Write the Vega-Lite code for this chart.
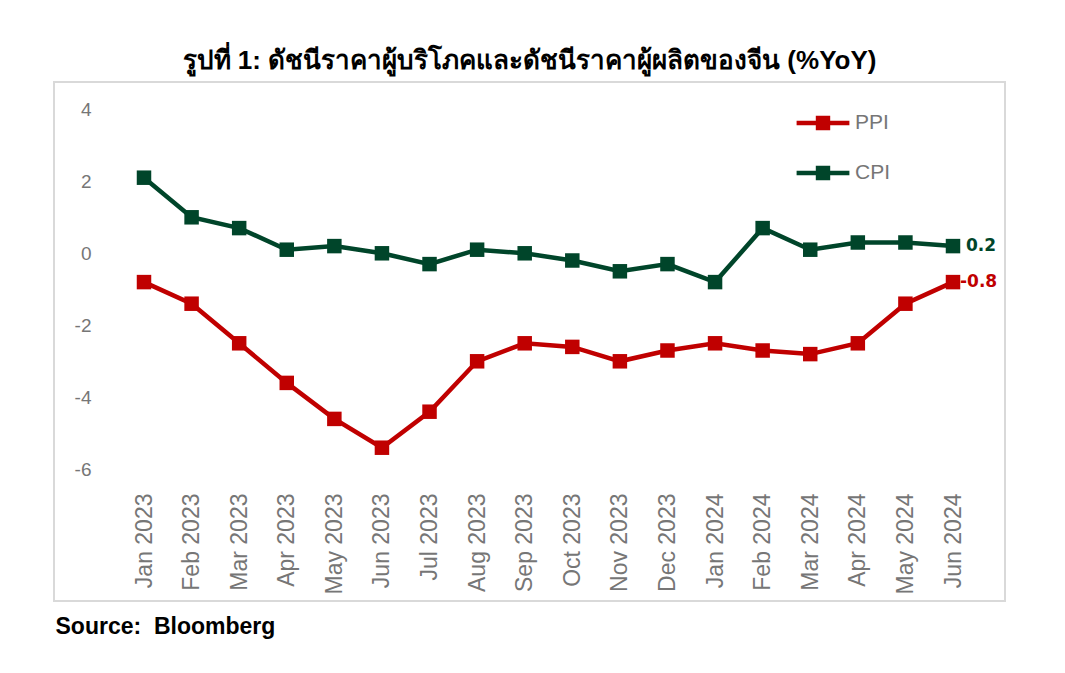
{
  "$schema": "https://vega.github.io/schema/vega-lite/v6.json",
  "autosize": {"type": "none"},
  "width": 951,
  "height": 519,
  "padding": {"left": 54, "top": 82, "right": 60, "bottom": 72},
  "background": "white",
  "title": {
    "text": "รูปที่ 1: ดัชนีราคาผู้บริโภคและดัชนีราคาผู้ผลิตของจีน (%YoY)",
    "font": "Liberation Sans",
    "fontSize": 26,
    "fontWeight": "bold",
    "color": "#000000",
    "anchor": "middle",
    "offset": 8
  },
  "config": {
    "locale": {"number": {"decimal": ".", "thousands": ",", "grouping": [3], "currency": ["$", ""], "minus": "-"}},
    "view": {"stroke": "#d9d9d9", "strokeWidth": 2},
    "axis": {"labelFont": "Liberation Sans"}
  },
  "data": {
    "values": [
      {"month": "Jan 2023", "series": "PPI", "value": -0.8},
      {"month": "Feb 2023", "series": "PPI", "value": -1.4},
      {"month": "Mar 2023", "series": "PPI", "value": -2.5},
      {"month": "Apr 2023", "series": "PPI", "value": -3.6},
      {"month": "May 2023", "series": "PPI", "value": -4.6},
      {"month": "Jun 2023", "series": "PPI", "value": -5.4},
      {"month": "Jul 2023", "series": "PPI", "value": -4.4},
      {"month": "Aug 2023", "series": "PPI", "value": -3.0},
      {"month": "Sep 2023", "series": "PPI", "value": -2.5},
      {"month": "Oct 2023", "series": "PPI", "value": -2.6},
      {"month": "Nov 2023", "series": "PPI", "value": -3.0},
      {"month": "Dec 2023", "series": "PPI", "value": -2.7},
      {"month": "Jan 2024", "series": "PPI", "value": -2.5},
      {"month": "Feb 2024", "series": "PPI", "value": -2.7},
      {"month": "Mar 2024", "series": "PPI", "value": -2.8},
      {"month": "Apr 2024", "series": "PPI", "value": -2.5},
      {"month": "May 2024", "series": "PPI", "value": -1.4},
      {"month": "Jun 2024", "series": "PPI", "value": -0.8},
      {"month": "Jan 2023", "series": "CPI", "value": 2.1},
      {"month": "Feb 2023", "series": "CPI", "value": 1.0},
      {"month": "Mar 2023", "series": "CPI", "value": 0.7},
      {"month": "Apr 2023", "series": "CPI", "value": 0.1},
      {"month": "May 2023", "series": "CPI", "value": 0.2},
      {"month": "Jun 2023", "series": "CPI", "value": 0.0},
      {"month": "Jul 2023", "series": "CPI", "value": -0.3},
      {"month": "Aug 2023", "series": "CPI", "value": 0.1},
      {"month": "Sep 2023", "series": "CPI", "value": 0.0},
      {"month": "Oct 2023", "series": "CPI", "value": -0.2},
      {"month": "Nov 2023", "series": "CPI", "value": -0.5},
      {"month": "Dec 2023", "series": "CPI", "value": -0.3},
      {"month": "Jan 2024", "series": "CPI", "value": -0.8},
      {"month": "Feb 2024", "series": "CPI", "value": 0.7},
      {"month": "Mar 2024", "series": "CPI", "value": 0.1},
      {"month": "Apr 2024", "series": "CPI", "value": 0.3},
      {"month": "May 2024", "series": "CPI", "value": 0.3},
      {"month": "Jun 2024", "series": "CPI", "value": 0.2}
    ]
  },
  "encoding": {
    "x": {
      "field": "month",
      "type": "ordinal",
      "sort": null,
      "scale": {"type": "point", "range": [90, 899], "padding": 0},
      "axis": {
        "orient": "bottom",
        "offset": -111,
        "labelAngle": -90,
        "labelAlign": "right",
        "labelBaseline": "middle",
        "labelFontSize": 23,
        "labelColor": "#767676",
        "labelPadding": 3,
        "ticks": false,
        "tickSize": 0,
        "domain": false,
        "grid": false,
        "title": "Source:\u00a0 Bloomberg",
        "titleFont": "Liberation Sans",
        "titleFontSize": 23,
        "titleFontWeight": "bold",
        "titleColor": "#000000",
        "titleAnchor": "start",
        "titleAlign": "left",
        "titleBaseline": "alphabetic",
        "titleX": 1,
        "titleY": 143
      }
    },
    "y": {
      "field": "value",
      "type": "quantitative",
      "scale": {"domain": [-9.658, 4.758], "nice": false, "zero": false},
      "axis": {
        "values": [-6, -4, -2, 0, 2, 4],
        "offset": -37,
        "labelPadding": 0,
        "labelFontSize": 19,
        "labelColor": "#767676",
        "ticks": false,
        "tickSize": 0,
        "domain": false,
        "grid": false,
        "title": null
      }
    }
  },
  "layer": [
    {
      "data": {"values": [{"from": "Jan 2023", "to": "Jun 2024"}]},
      "mark": {"type": "rule", "color": "#d9d9d9", "strokeWidth": 2, "xOffset": -24, "x2Offset": 24},
      "encoding": {
        "x": {"field": "from", "type": "ordinal"},
        "x2": {"field": "to"},
        "y": {"datum": 0, "type": "quantitative"}
      }
    },
    {
      "mark": {"type": "line", "strokeWidth": 4.5, "point": {"shape": "square", "size": 210, "filled": true, "opacity": 1}},
      "encoding": {
        "color": {
          "field": "series",
          "type": "nominal",
          "scale": {"domain": ["PPI", "CPI"], "range": ["#C00000", "#00452A"]},
          "legend": {
            "orient": "none",
            "legendX": 745,
            "legendY": 17,
            "title": null,
            "padding": 0,
            "symbolType": "M-1.1,-0.09H1.1V0.09H-1.1Z M-0.3,-0.3H0.3V0.3H-0.3Z",
            "symbolSize": 2304,
            "symbolStrokeWidth": 0,
            "labelFont": "Liberation Sans",
            "labelFontSize": 21,
            "labelColor": "#767676",
            "labelOffset": 8,
            "rowPadding": 16,
            "encode": {
              "symbols": {"update": {"fill": {"scale": "color", "field": "value"}, "fillOpacity": {"value": 1}, "strokeWidth": {"value": 0}}}
            }
          }
        }
      }
    },
    {
      "transform": [{"filter": "datum.month === 'Jun 2024' && datum.series === 'CPI'"}],
      "mark": {"type": "text", "align": "left", "baseline": "middle", "dx": 13, "font": "DejaVu Sans", "fontWeight": "bold", "fontSize": 17},
      "encoding": {
        "text": {"field": "value", "type": "quantitative", "format": ".1f"},
        "color": {"field": "series", "type": "nominal"}
      }
    },
    {
      "transform": [{"filter": "datum.month === 'Jun 2024' && datum.series === 'PPI'"}],
      "mark": {"type": "text", "align": "left", "baseline": "middle", "dx": 7, "font": "DejaVu Sans", "fontWeight": "bold", "fontSize": 17},
      "encoding": {
        "text": {"field": "value", "type": "quantitative", "format": ".1f"},
        "color": {"field": "series", "type": "nominal"}
      }
    }
  ]
}
